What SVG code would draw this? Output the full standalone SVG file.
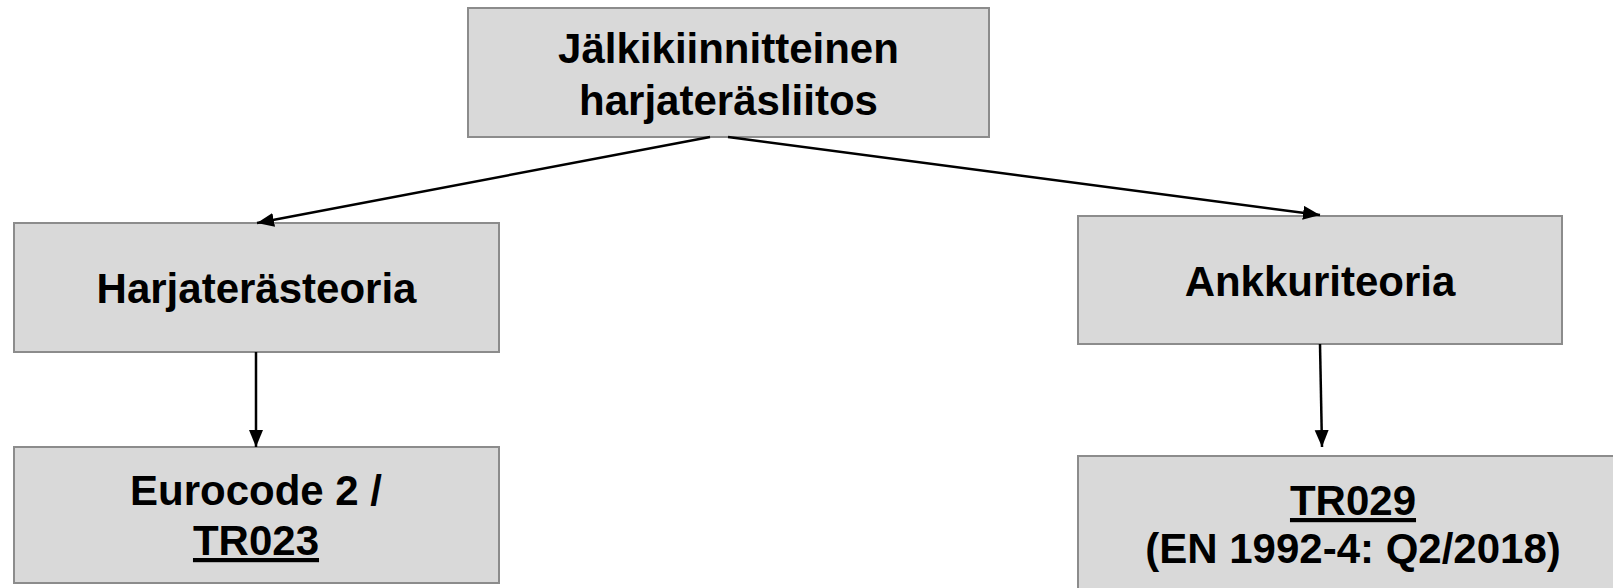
<svg xmlns="http://www.w3.org/2000/svg" width="1613" height="588" viewBox="0 0 1613 588">
  <style>
    .box { fill: #d9d9d9; stroke: #8c8c8c; stroke-width: 2; }
    .lbl { font-family: "Liberation Sans", Arial, sans-serif; font-weight: bold; font-size: 42px; fill: #000; text-anchor: middle; }
    .u { text-decoration: underline; }
    .conn { stroke: #000; stroke-width: 2.5; fill: none; marker-end: url(#arrow); }
  </style>
  <defs>
    <marker id="arrow" markerUnits="userSpaceOnUse" markerWidth="20" markerHeight="16" refX="17" refY="7" orient="auto">
      <path d="M0,0 L17,7 L0,14 z" fill="#000"/>
    </marker>
  </defs>
  <rect width="1613" height="588" fill="#fff"/>

  <g id="node-top">
    <rect class="box" x="468" y="8" width="521" height="129"/>
    <text class="lbl" x="728.5" y="63">Jälkikiinnitteinen</text>
    <text class="lbl" x="728.5" y="115">harjateräsliitos</text>
  </g>

  <g id="node-harjaterasteoria">
    <rect class="box" x="14" y="223" width="485" height="129"/>
    <text class="lbl" x="256.5" y="303">Harjaterästeoria</text>
  </g>

  <g id="node-ankkuriteoria">
    <rect class="box" x="1078" y="216" width="484" height="128"/>
    <text class="lbl" x="1320" y="296">Ankkuriteoria</text>
  </g>

  <g id="node-eurocode">
    <rect class="box" x="14" y="447" width="485" height="136"/>
    <text class="lbl" x="256" y="505">Eurocode 2 /</text>
    <text class="lbl u" x="256" y="555">TR023</text>
  </g>

  <g id="node-tr029">
    <rect class="box" x="1078" y="456" width="550" height="140"/>
    <text class="lbl u" x="1353" y="515">TR029</text>
    <text class="lbl" x="1353" y="563">(EN 1992-4: Q2/2018)</text>
  </g>

  <g id="connectors">
    <line class="conn" x1="710" y1="137" x2="257" y2="223"/>
    <line class="conn" x1="728" y1="137" x2="1320" y2="215"/>
    <line class="conn" x1="256" y1="352" x2="256" y2="447"/>
    <line class="conn" x1="1320" y1="344" x2="1322" y2="447"/>
  </g>
</svg>
